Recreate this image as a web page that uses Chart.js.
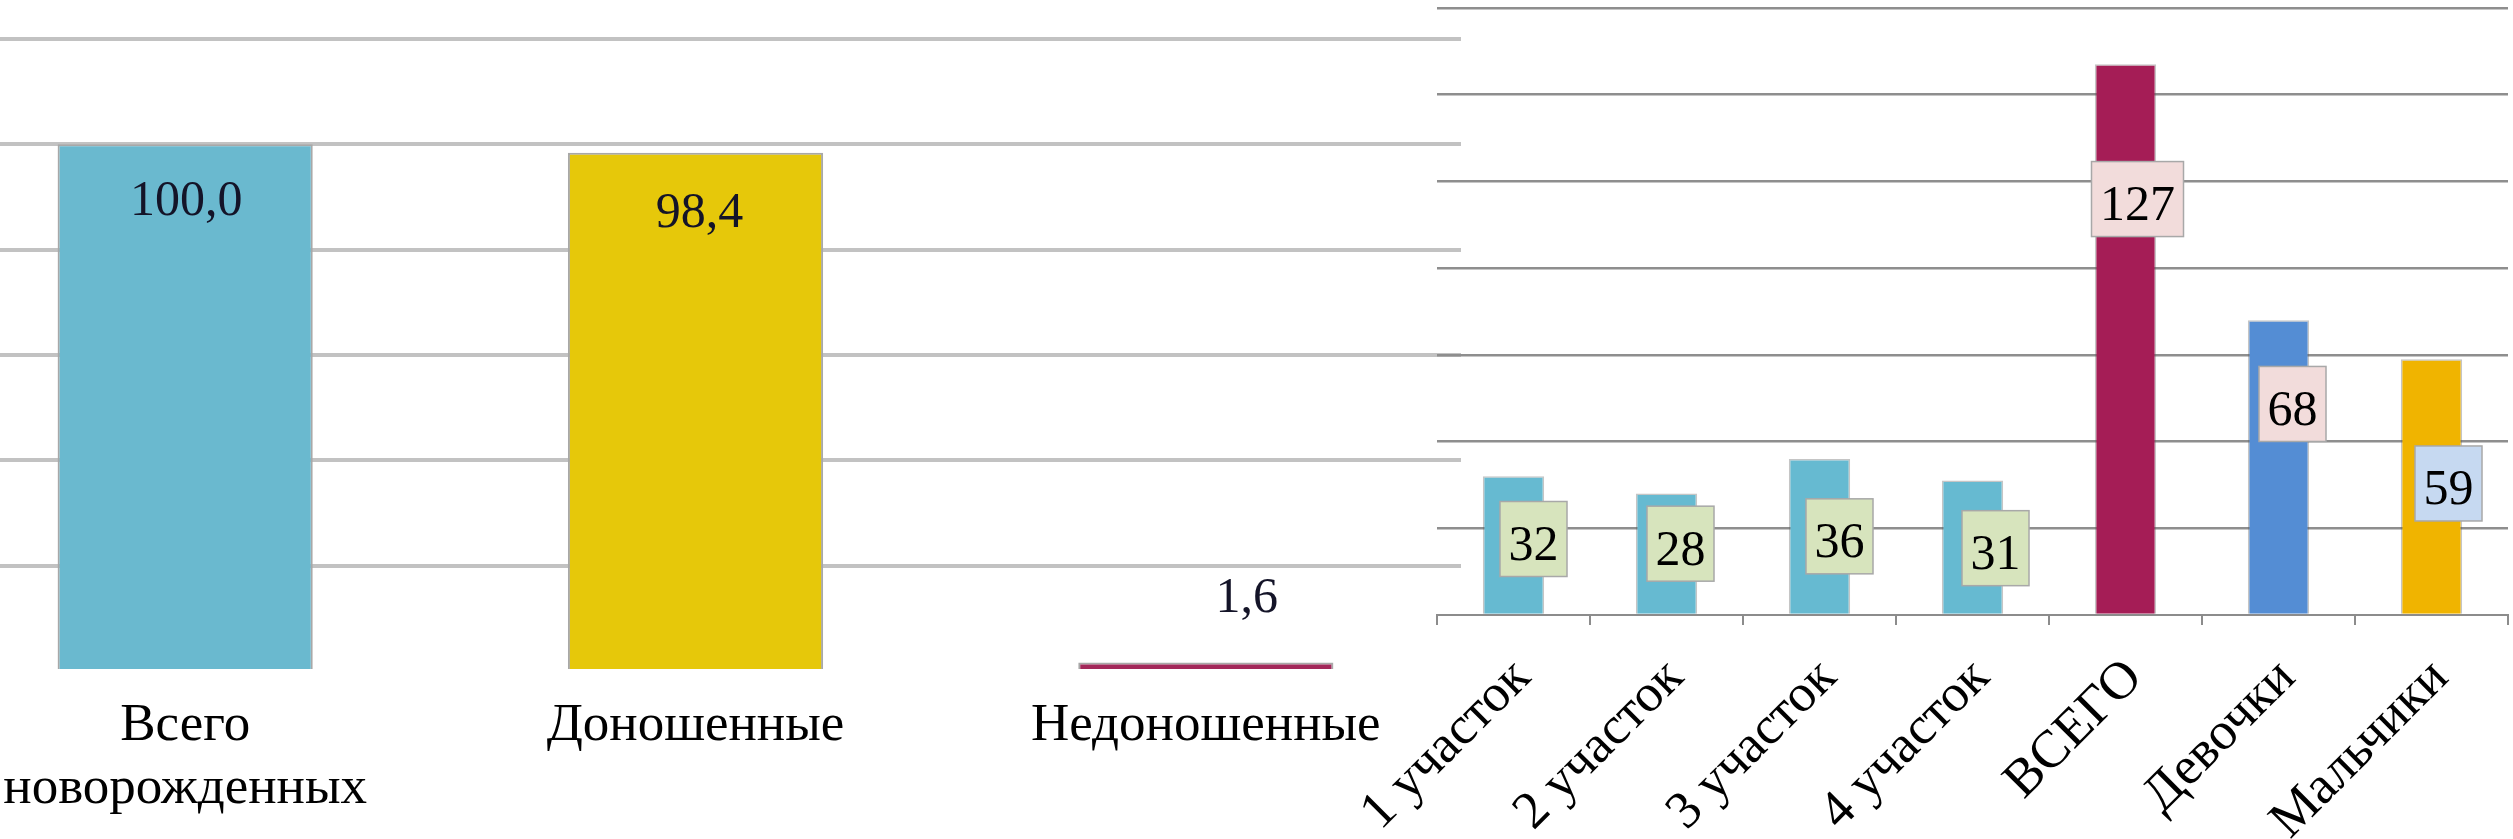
<!DOCTYPE html>
<html>
<head>
<meta charset="utf-8">
<script src="https://cdn.jsdelivr.net/npm/chart.js@4.4.1/dist/chart.umd.min.js"></script>
<style>
html, body { margin:0; padding:0; background:#ffffff; width:2513px; height:839px; overflow:hidden; }
#cL { position:absolute; left:-70px; top:0; }
#cR { position:absolute; left:1300px; top:0; }
</style>
</head>
<body>
<canvas id="cL" width="1531" height="839"></canvas>
<canvas id="cR" width="1213" height="839"></canvas>
<script>
// ---------- DATA ----------
const leftCategories = [['Всего', 'новорожденных'], 'Доношенные', 'Недоношенные'];
const leftValues = [100.0, 98.4, 1.6];
const leftTicks = [0, 20, 40, 60, 80, 100, 120];

const rightCategories = ['1 участок', '2 участок', '3 участок', '4 участок', 'ВСЕГО', 'Девочки', 'Мальчики'];
const rightValues = [32, 28, 36, 31, 127, 68, 59];
const rightTicks = [0, 20, 40, 60, 80, 100, 120, 140];

// ---------- STYLE ----------
const FONT = '"Liberation Serif", "Times New Roman", serif';
const leftColors = ['#6AB9CF', '#E6C80A', '#A3285A'];
const rightColors = ['#66BAD1', '#66BAD1', '#66BAD1', '#66BAD1', '#A51D56', '#548DD4', '#F0B400'];
const rightBoxColors = ['#D7E4BD', '#D7E4BD', '#D7E4BD', '#D7E4BD', '#F2DCDB', '#F2DCDB', '#C6D9F1'];
// label placement tweaks (pixels)
const leftLabelDx = [1, 4, 41];
const leftLabelDy = [71, 74, -51];      // baseline relative to bar top
const rightLabelDx = [20, 14, 20, 23, 12, 14, 17];
const rightLabelDy = [-6, -10, 0, 1, -140, -63, -3]; // relative to bar middle

const leftLabelPlugin = {
  id: 'leftLabels',
  afterDatasetsDraw(chart) {
    const ctx = chart.ctx;
    const meta = chart.getDatasetMeta(0);
    ctx.save();
    ctx.font = '50px ' + FONT;
    ctx.fillStyle = '#141428';
    ctx.textAlign = 'center';
    ctx.textBaseline = 'alphabetic';
    meta.data.forEach((bar, i) => {
      const txt = leftValues[i].toFixed(1).replace('.', ',');
      ctx.fillText(txt, bar.x + leftLabelDx[i], bar.y + leftLabelDy[i]);
    });
    ctx.restore();
  }
};

const rightLabelPlugin = {
  id: 'rightLabels',
  afterDatasetsDraw(chart) {
    const ctx = chart.ctx;
    const meta = chart.getDatasetMeta(0);
    ctx.save();
    ctx.font = '50px ' + FONT;
    ctx.textAlign = 'center';
    ctx.textBaseline = 'alphabetic';
    meta.data.forEach((bar, i) => {
      const txt = String(rightValues[i]);
      const w = ctx.measureText(txt).width + 17;
      const h = 75;
      const cx = bar.x + rightLabelDx[i];
      const cy = (bar.y + bar.base) / 2 + rightLabelDy[i];
      ctx.fillStyle = rightBoxColors[i];
      ctx.fillRect(cx - w / 2, cy - h / 2, w, h);
      ctx.strokeStyle = '#A8A8A8';
      ctx.lineWidth = 1.5;
      ctx.strokeRect(cx - w / 2, cy - h / 2, w, h);
      ctx.fillStyle = '#000000';
      ctx.fillText(txt, cx, cy + 21);
    });
    ctx.restore();
  }
};

new Chart(document.getElementById('cL'), {
  type: 'bar',
  data: {
    labels: leftCategories,
    datasets: [{
      data: leftValues,
      backgroundColor: leftColors,
      borderColor: '#A8A8A8',
      borderWidth: 2,
      categoryPercentage: 1.0,
      barPercentage: 0.5
    }]
  },
  options: {
    responsive: false,
    animation: false,
    layout: { padding: { top: 39, left: 0, right: 0, bottom: 0 } },
    plugins: { legend: { display: false }, tooltip: { enabled: false } },
    scales: {
      x: {
        grid: { display: false, drawTicks: false },
        border: { display: false },
        ticks: {
          font: { family: FONT, size: 53 },
          color: '#000000',
          maxRotation: 0, minRotation: 0,
          autoSkip: false,
          padding: 23
        },
        afterFit(s) { s.height = 168; }
      },
      y: {
        min: leftTicks[0],
        max: leftTicks[leftTicks.length - 1],
        ticks: { display: false, stepSize: leftTicks[1] - leftTicks[0] },
        grid: {
          color: (c) => (c.tick && c.tick.value === 0) ? 'rgba(0,0,0,0)' : '#C2C2C2',
          lineWidth: 4,
          drawTicks: false
        },
        border: { display: false },
        afterFit(s) { s.width = 0; }
      }
    }
  },
  plugins: [leftLabelPlugin]
});

new Chart(document.getElementById('cR'), {
  type: 'bar',
  data: {
    labels: rightCategories,
    datasets: [{
      data: rightValues,
      backgroundColor: rightColors,
      borderColor: 'rgba(90,90,90,0.35)',
      borderWidth: 1.5,
      categoryPercentage: 1.0,
      barPercentage: 0.4
    }]
  },
  options: {
    responsive: false,
    animation: false,
    layout: { padding: { top: 8, left: 0, right: 5, bottom: 0 } },
    plugins: { legend: { display: false }, tooltip: { enabled: false } },
    scales: {
      x: {
        grid: { display: true, drawOnChartArea: false, drawTicks: true, tickLength: 10, color: '#8C8C8C', lineWidth: 2, offset: true },
        border: { display: true, color: '#8C8C8C', width: 2 },
        ticks: {
          font: { family: FONT, size: 53 },
          color: '#000000',
          maxRotation: 45, minRotation: 45,
          autoSkip: false,
          padding: 22,
          labelOffset: 9
        },
        afterFit(s) { s.height = 224; }
      },
      y: {
        min: rightTicks[0],
        max: rightTicks[rightTicks.length - 1],
        ticks: { display: false, stepSize: rightTicks[1] - rightTicks[0] },
        grid: {
          color: (c) => (c.tick && c.tick.value === 0) ? 'rgba(0,0,0,0)' : '#8E8E8E',
          lineWidth: 2.5,
          drawTicks: false
        },
        border: { display: false },
        afterFit(s) { s.width = 137; }
      }
    }
  },
  plugins: [rightLabelPlugin]
});
</script>
</body>
</html>
